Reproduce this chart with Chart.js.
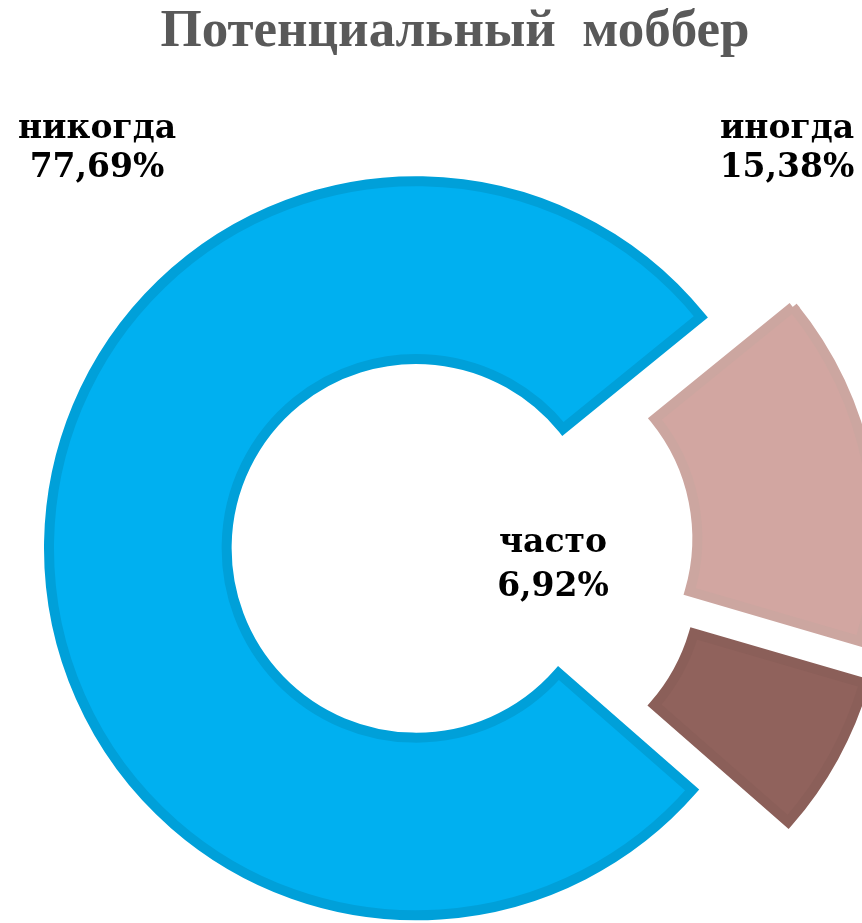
<!DOCTYPE html>
<html>
<head>
<meta charset="utf-8">
<script src="https://cdn.jsdelivr.net/npm/chart.js@4/dist/chart.umd.min.js"></script>
<style>
html, body { margin: 0; padding: 0; overflow: hidden; background: #ffffff; }
#wrap { position: relative; width: 910px; height: 923px; }
</style>
</head>
<body>
<div id="wrap"><canvas id="c"></canvas></div>
<script>
// ---- data ----
const titleText = 'Потенциальный  моббер';
const categories = ['никогда', 'иногда', 'часто'];
const percentValues = [77.69, 15.38, 6.92];

// ---- styles ----
const fillColors = ['#00B0F0', '#D2A6A1', '#90625C'];
const borderColors = ['#00A0D9', '#CCA6A0', '#8B5F59'];
const explodePx = [39, 54, 65];
const labelAnchors = [[97, 138], [787, 138], [553, 552]];
const labelLineGap = [39, 39, 44];

function fmt(v) { return v.toFixed(2).replace('.', ',') + '%'; }

const explodePlugin = {
  id: 'explode',
  afterDatasetUpdate(chart, args) {
    args.meta.data.forEach((arc, i) => {
      const mid = (arc.startAngle + arc.endAngle) / 2;
      const d = explodePx[i] || 0;
      arc.x += Math.cos(mid) * d;
      arc.y += Math.sin(mid) * d;
    });
  }
};

const labelPlugin = {
  id: 'sliceLabels',
  afterDatasetsDraw(chart) {
    const ctx = chart.ctx;
    ctx.save();
    ctx.fillStyle = '#000000';
    ctx.textAlign = 'center';
    ctx.textBaseline = 'alphabetic';
    ctx.font = 'bold 33px "DejaVu Serif", serif';
    categories.forEach((cat, i) => {
      const [x, y] = labelAnchors[i];
      ctx.fillText(cat, x, y);
      ctx.fillText(fmt(percentValues[i]), x, y + labelLineGap[i]);
    });
    ctx.restore();
  }
};

new Chart(document.getElementById('c'), {
  type: 'doughnut',
  data: {
    labels: categories,
    datasets: [{
      data: percentValues,
      backgroundColor: fillColors,
      borderColor: borderColors,
      borderWidth: 10,
      borderAlign: 'center',
      borderJoinStyle: 'miter',
      hoverOffset: 0
    }]
  },
  options: {
    responsive: true,
    maintainAspectRatio: false,
    animation: false,
    events: [],
    rotation: 131.2,
    radius: 367,
    cutout: '51.6%',
    layout: { padding: 0 },
    plugins: {
      legend: { display: false },
      tooltip: { enabled: false },
      title: {
        display: true,
        text: titleText,
        color: '#595959',
        font: { family: '"Liberation Serif", "Times New Roman", serif', size: 53, weight: 'bold', lineHeight: 1 },
        padding: { top: 6, bottom: 116 }
      }
    }
  },
  plugins: [explodePlugin, labelPlugin]
});
</script>
</body>
</html>
